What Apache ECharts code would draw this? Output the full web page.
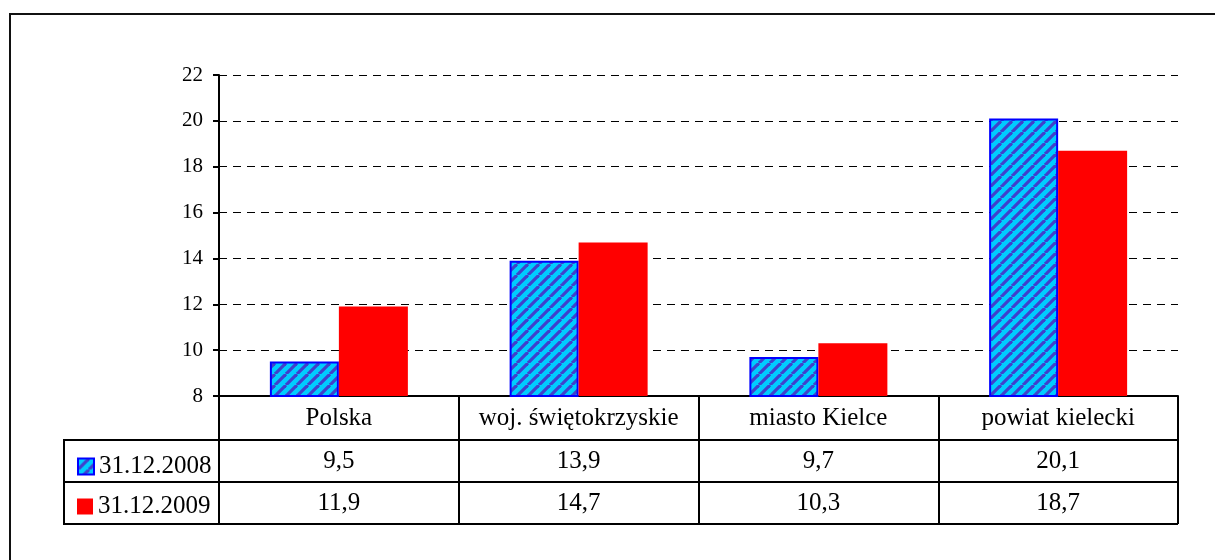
<!DOCTYPE html>
<html>
<head>
<meta charset="utf-8">
<script src="https://cdn.jsdelivr.net/npm/echarts@6/dist/echarts.min.js"></script>
<style>
    html, body { margin: 0; padding: 0; background: #fff; }
    #chart { width: 1215px; height: 560px; }
</style>
</head>
<body>
<div id="chart"></div>
<script>
    // dane
    var categories = ['Polska', 'woj. świętokrzyskie', 'miasto Kielce', 'powiat kielecki'];
    var seriesNames = ['31.12.2008', '31.12.2009'];
    var values2008 = [9.5, 13.9, 9.7, 20.1];
    var values2009 = [11.9, 14.7, 10.3, 18.7];
    var yTicks = [8, 10, 12, 14, 16, 18, 20, 22];

    var font = 'Liberation Serif';

    // kreskowanie dla pierwszej serii
    function hatch() {
        var s = 11;
        var c = document.createElement('canvas');
        c.width = s; c.height = s;
        var ctx = c.getContext('2d');
        ctx.fillStyle = '#00CCFF';
        ctx.fillRect(0, 0, s, s);
        ctx.strokeStyle = '#4040CC';
        ctx.lineWidth = 3.2;
        for (var k = -1; k <= 1; k++) {
            ctx.beginPath();
            ctx.moveTo(k * s, s);
            ctx.lineTo(k * s + s, 0);
            ctx.stroke();
        }
        return c;
    }

    var chart = echarts.init(document.getElementById('chart'));
    var fmt = function (v) { return v.toFixed(1).replace('.', ','); };

    var option = {
        animation: false,
        grid: { left: 219, right: 37, top: 75, bottom: 164 },
        legend: [
            {
                left: 72, top: 449, orient: 'vertical', icon: 'rect',
                itemWidth: 16, itemHeight: 16,
                data: [seriesNames[0]],
                textStyle: { fontFamily: font, fontSize: 25, color: '#000' }
            },
            {
                left: 72, top: 489, orient: 'vertical', icon: 'rect',
                itemWidth: 16, itemHeight: 16,
                data: [seriesNames[1]],
                textStyle: { fontFamily: font, fontSize: 25, color: '#000' }
            }
        ],
        xAxis: {
            type: 'category',
            data: categories,
            axisLine: { lineStyle: { color: '#000', width: 2 } },
            axisTick: { show: true, interval: 0, length: 128, lineStyle: { color: '#000', width: 2 } },
            axisLabel: { interval: 0, margin: 10, fontFamily: font, fontSize: 25, color: '#000' },
            splitLine: { show: false }
        },
        yAxis: {
            type: 'value',
            min: yTicks[0],
            max: yTicks[yTicks.length - 1],
            interval: 2,
            axisLine: { show: true, lineStyle: { color: '#000', width: 2 } },
            axisTick: { show: true, length: 6, lineStyle: { color: '#000', width: 2 } },
            axisLabel: { margin: 16, fontFamily: font, fontSize: 21, color: '#000' },
            splitLine: { show: true, lineStyle: { color: '#000', width: 1, type: [8, 6] } }
        },
        series: [
            {
                name: seriesNames[0],
                type: 'bar',
                barWidth: 69,
                barGap: '0%',
                data: values2008,
                itemStyle: {
                    color: { image: hatch(), repeat: 'repeat' },
                    borderColor: '#0000FF',
                    borderWidth: 2
                }
            },
            {
                name: seriesNames[1],
                type: 'bar',
                barWidth: 69,
                data: values2009,
                itemStyle: { color: '#FF0000' }
            }
        ]
    };
    chart.setOption(option);

    // tabela danych pod osią
    var gridTop = 396, rowH = [44, 42, 42];
    var xr = 1178, tableLeft = 64;
    var r1 = gridTop + rowH[0], r2 = r1 + rowH[1], r3 = r2 + rowH[2];
    var lineStyle = { stroke: '#000', lineWidth: 2 };
    var els = [
        { type: 'rect', shape: { x: 10, y: 14, width: 1400, height: 800 }, style: { fill: null, stroke: '#111', lineWidth: 2 } },
        { type: 'line', shape: { x1: tableLeft, y1: r1, x2: xr, y2: r1 }, style: lineStyle },
        { type: 'line', shape: { x1: tableLeft, y1: r2, x2: xr, y2: r2 }, style: lineStyle },
        { type: 'line', shape: { x1: tableLeft, y1: r3, x2: xr, y2: r3 }, style: lineStyle },
        { type: 'line', shape: { x1: tableLeft, y1: r1 - 1, x2: tableLeft, y2: r3 + 1 }, style: lineStyle }
    ];
    [values2008, values2009].forEach(function (vals, row) {
        var cy = row === 0 ? (r1 + r2) / 2 : (r2 + r3) / 2;
        vals.forEach(function (v, i) {
            els.push({
                type: 'text',
                x: chart.convertToPixel({ xAxisIndex: 0 }, i),
                y: cy,
                style: {
                    text: fmt(v), fill: '#000', font: '25px "' + font + '"',
                    align: 'center', verticalAlign: 'middle'
                }
            });
        });
    });
    chart.setOption({ graphic: { elements: els } });
</script>
</body>
</html>
